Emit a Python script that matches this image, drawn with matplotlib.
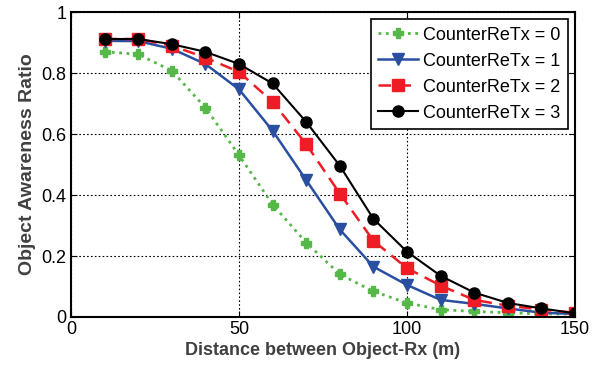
import matplotlib
matplotlib.use('Agg')
import matplotlib.pyplot as plt

distance = [10, 20, 30, 40, 50, 60, 70, 80, 90, 100, 110, 120, 130, 140, 150]
retx0 = [0.87, 0.862, 0.808, 0.687, 0.531, 0.369, 0.244, 0.14, 0.084, 0.046, 0.024, 0.018, 0.014, 0.01, 0.01]
retx1 = [0.906, 0.905, 0.88, 0.83, 0.747, 0.611, 0.449, 0.287, 0.165, 0.105, 0.056, 0.043, 0.028, 0.014, 0.01]
retx2 = [0.912, 0.912, 0.89, 0.851, 0.804, 0.706, 0.567, 0.405, 0.25, 0.16, 0.103, 0.056, 0.037, 0.024, 0.014]
retx3 = [0.912, 0.912, 0.895, 0.87, 0.83, 0.766, 0.64, 0.496, 0.322, 0.214, 0.135, 0.08, 0.046, 0.028, 0.012]
labels = ['CounterReTx = 0', 'CounterReTx = 1', 'CounterReTx = 2', 'CounterReTx = 3']

plt.rcParams['font.family'] = ['Liberation Sans', 'DejaVu Sans']

fig = plt.figure(figsize=(6.06, 3.69), dpi=100)
ax = fig.add_axes([0.117, 0.141, 0.832, 0.826])

ax.plot(distance, retx0, color='#55b848', linestyle=':', linewidth=2, marker='P',
        markersize=6.5, label=labels[0])
ax.plot(distance, retx1, color='#2a4fa0', linestyle='-', linewidth=1.8, marker='v',
        markersize=9, label=labels[1])
ax.plot(distance, retx2, color='#ee1c25', linestyle='--', linewidth=1.8, marker='s',
        markersize=8, dashes=(5, 3), label=labels[2])
ax.plot(distance, retx3, color='black', linestyle='-', linewidth=1.5, marker='o',
        markersize=8, label=labels[3])

ax.set_xlim(0, 150)
ax.set_ylim(0, 1)
ax.set_xticks([0, 50, 100, 150])
ax.set_yticks([0, 0.2, 0.4, 0.6, 0.8, 1])
ax.set_yticklabels(['0', '0.2', '0.4', '0.6', '0.8', '1'])
ax.tick_params(direction='in', top=True, right=True, labelsize=13, length=4, pad=3)
ax.grid(True, color='black', linestyle=(0, (1.5, 2)), linewidth=0.8)
for s in ax.spines.values():
    s.set_linewidth(1.5)

ax.set_xlabel('Distance between Object-Rx (m)', fontsize=13, fontweight='bold', color='#404040',
              labelpad=3)
ax.set_ylabel('Object Awareness Ratio', fontsize=14, fontweight='bold', color='#404040',
              labelpad=4)

leg = ax.legend(loc='upper right', fontsize=13, fancybox=False, framealpha=1,
                edgecolor='black', borderpad=0.4, labelspacing=0.5, handlelength=2.2,
                handletextpad=0.3, borderaxespad=0.4)
leg.get_frame().set_linewidth(1.2)

plt.savefig('out.png', dpi=100)
